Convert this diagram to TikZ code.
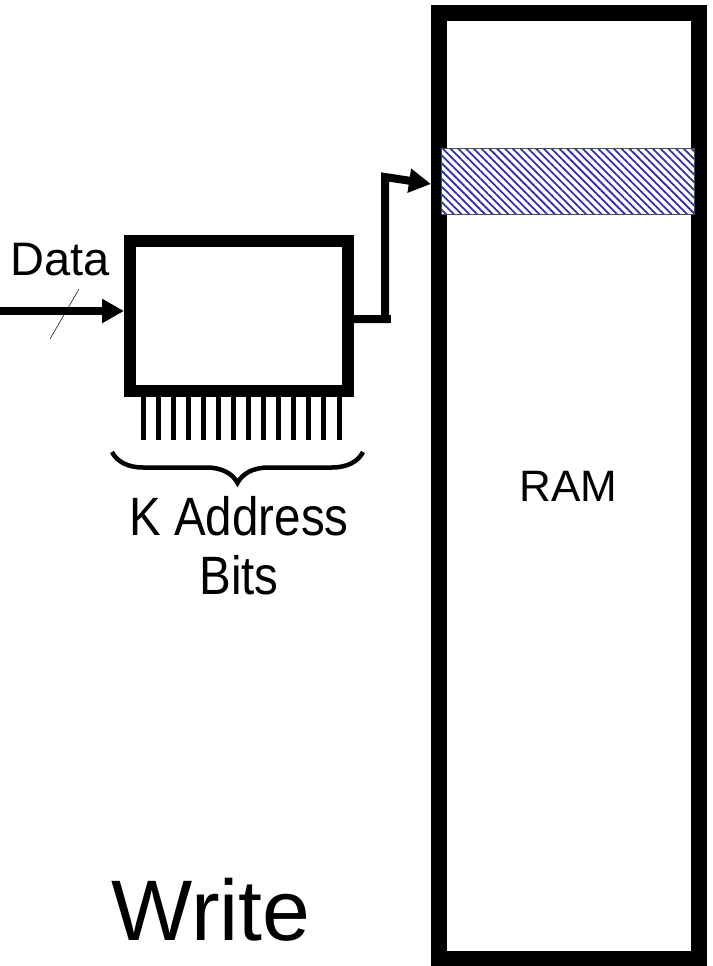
\documentclass[tikz,border=0pt]{standalone}
\usepackage{fontspec}
\setmainfont{Liberation Sans}
\newfontfamily\narrowsf[FakeStretch=0.88]{Liberation Sans}
\usetikzlibrary{arrows.meta,patterns.meta,decorations.pathreplacing}
\definecolor{rowblue}{RGB}{50,50,175}
\begin{document}
\begin{tikzpicture}[x=1pt,y=-1pt,line width=.5pt,
  wire/.style={line width=8pt},
  pin/.style={line width=5pt},
  bigtip/.style={-{Triangle[length=22pt,width=23pt]}}]
\path[use as bounding box] (0,0) rectangle (712,966);
\node[draw,line width=16pt,minimum width=260pt,minimum height=946pt,inner sep=0pt,font=\fontsize{44}{50}\selectfont] (ram) at (568.5,486) {RAM};
\node[draw=black!70,line width=.8pt,minimum width=253pt,minimum height=66pt,inner sep=0pt,preaction={fill=white},pattern={Lines[angle=-45,distance=5.5pt,line width=1.8pt]},pattern color=rowblue] (row) at (567.5,181) {};
\node[draw,line width=12pt,minimum width=218pt,minimum height=150pt] (enc) at (239,316) {};
\coordinate (din) at (0,311);
\draw[wire,bigtip] (din) -- (din -| enc.west);
\draw (50,339) -- (79,289);
\node[anchor=base,inner sep=0pt,font=\fontsize{47}{54}\selectfont] (datalbl) at (60,275) {Data};
\coordinate (out) at ([yshift=-3pt]enc.east);
\coordinate (up) at (385,177);
\coordinate (hit) at (431,184);
\draw[wire,bigtip] (out) -| (up) -- (hit);
\draw[wire] (up |- out) -- ++(6,0);
\foreach \i in {0,...,13}
  \draw[pin] (enc.south west) ++(19+15.08*\i,0) -- ++(0,43);
\coordinate (bl) at (112,452);
\coordinate (br) at (363,452);
\draw[line width=4.5pt,decorate,decoration={brace,mirror,amplitude=31pt}] (bl) -- (br);
\node[anchor=north,align=center,inner sep=0pt,font=\narrowsf\fontsize{54}{59}\selectfont] (kbits) at (239,496) {K Address\\Bits};
\node[anchor=base,inner sep=0pt,font=\fontsize{86}{96}\selectfont] (wlabel) at (211,940) {Write};
\end{tikzpicture}
\end{document}
